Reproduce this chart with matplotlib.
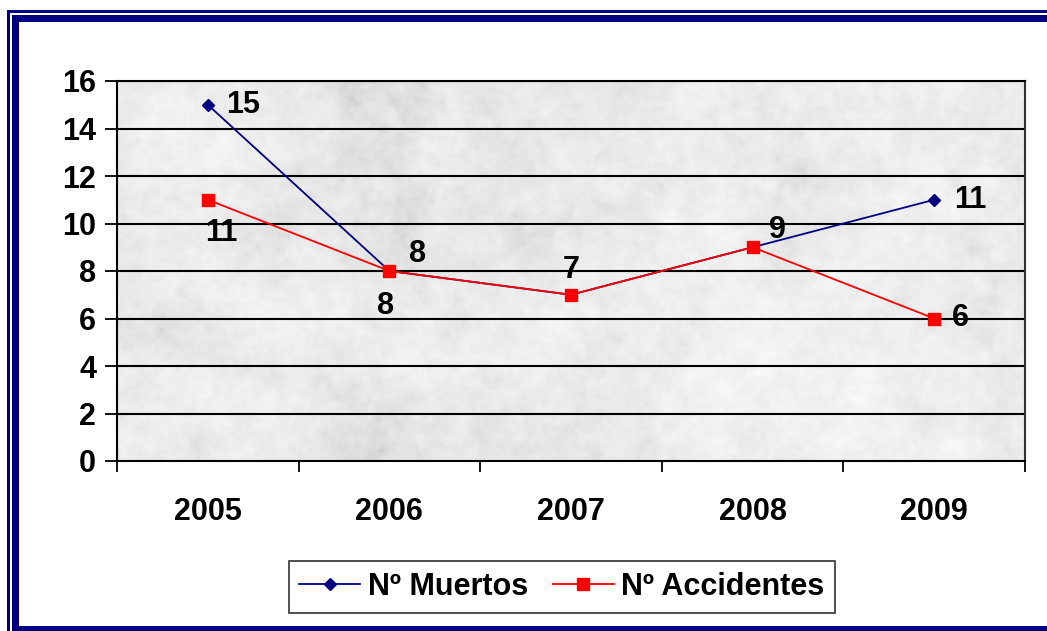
import numpy as np
import matplotlib
matplotlib.use("Agg")
import matplotlib.pyplot as plt
from matplotlib.patches import Rectangle

plt.rcParams['font.family'] = ['Liberation Sans', 'DejaVu Sans']
plt.rcParams['font.weight'] = 'bold'

years = ['2005', '2006', '2007', '2008', '2009']
muertos = [15, 8, 7, 9, 11]
accidentes = [11, 8, 7, 9, 6]

W, H = 1047, 631
fig = plt.figure(figsize=(W / 100, H / 100), dpi=100)
fig.patch.set_facecolor('white')

navy = '#000080'

# frame around the chart (pixel rectangles converted to figure fractions)
def px_rect(x0, y0, x1, y1, color):
    fig.add_artist(Rectangle((x0 / W, 1 - y1 / H), (x1 - x0) / W, (y1 - y0) / H,
                             transform=fig.transFigure, color=color, lw=0, zorder=0))

px_rect(7, 10, 9.5, H, navy)
px_rect(7, 10, W, 12.5, navy)
px_rect(12, 15, 19, H, navy)
px_rect(12, 15, W, 22, navy)
px_rect(12, 626, W, H, navy)

ax = fig.add_axes([117 / W, 1 - 461 / H, (1025 - 117) / W, (461 - 81) / H])

# marble-like background texture
rng = np.random.default_rng(7)
ny, nx = 190, 455
noise = rng.standard_normal((ny, nx))
fy = np.fft.fftfreq(ny)[:, None]
fx = np.fft.fftfreq(nx)[None, :]
f = np.sqrt(fx ** 2 + fy ** 2) + 1e-3
spec = np.fft.fft2(noise) / f ** 1.2
tex = np.real(np.fft.ifft2(spec))
tex = (tex - tex.min()) / (tex.max() - tex.min())
tex = 0.74 + 0.24 * tex ** 0.45
ax.imshow(tex, cmap='gray', vmin=0, vmax=1, extent=[-0.5, 4.5, 0, 16],
          aspect='auto', zorder=0, interpolation='bicubic')

x = np.arange(len(years))
ax.set_xlim(-0.5, 4.5)
ax.set_ylim(0, 16)

for yv in range(2, 17, 2):
    ax.axhline(yv, color='black', lw=1.5, zorder=1)

ax.plot(x, muertos, color=navy, lw=1.3, marker='D', ms=6.5, zorder=3,
        label='Nº Muertos')
ax.plot(x, accidentes, color='red', lw=1.3, marker='s', ms=8, zorder=4,
        label='Nº Accidentes')

fs = 22
# data labels
m_off = [(18, 0, 'left', 'center'), (-4, -20, 'center', 'top'),
         (0, 10, 'center', 'bottom'), (16, 2, 'left', 'bottom'),
         (20, 0, 'left', 'center')]
a_off = [(14, -18, 'center', 'top'), (20, 2, 'left', 'bottom'),
         (0, 10, 'center', 'bottom'), (16, 2, 'left', 'bottom'),
         (18, 0, 'left', 'center')]
for xi, v, (dx, dy, ha, va) in zip(x, muertos, m_off):
    ax.annotate(str(v), (xi, v), xytext=(dx, dy), textcoords='offset pixels',
                ha=ha, va=va, fontsize=fs, fontweight='bold', zorder=5)
for xi, v, (dx, dy, ha, va) in zip(x, accidentes, a_off):
    if v in (7, 9):
        continue  # same spot as the Muertos label
    ax.annotate(str(v), (xi, v), xytext=(dx, dy), textcoords='offset pixels',
                ha=ha, va=va, fontsize=fs, fontweight='bold', zorder=5)

ax.set_yticks(range(0, 17, 2))
ax.set_yticklabels([str(v) for v in range(0, 17, 2)], fontsize=fs, fontweight='bold')
ax.set_xticks(x)
ax.set_xticklabels(years, fontsize=fs, fontweight='bold')
ax.set_xticks(np.arange(-0.5, 5, 1), minor=True)
ax.tick_params(axis='x', which='major', length=0, pad=26)
ax.tick_params(axis='x', which='minor', length=8, width=1.3, direction='out')
ax.tick_params(axis='y', length=9, width=1.3, direction='out', pad=6)

for s in ['left', 'bottom']:
    ax.spines[s].set_linewidth(1.5)
    ax.spines[s].set_color('black')
ax.spines['top'].set_linewidth(1.5)
ax.spines['right'].set_color('#333333')
ax.spines['right'].set_linewidth(1.5)

leg = fig.legend(loc='center', bbox_to_anchor=(562 / W, 1 - 587 / H), ncol=2,
                 prop={'size': fs, 'weight': 'bold'}, frameon=True, fancybox=False,
                 edgecolor='black', handlelength=2.0, handletextpad=0.25,
                 columnspacing=0.8, borderpad=0.35, borderaxespad=0)
leg.get_frame().set_linewidth(1.2)

fig.savefig('out.png', dpi=100, facecolor='white')
